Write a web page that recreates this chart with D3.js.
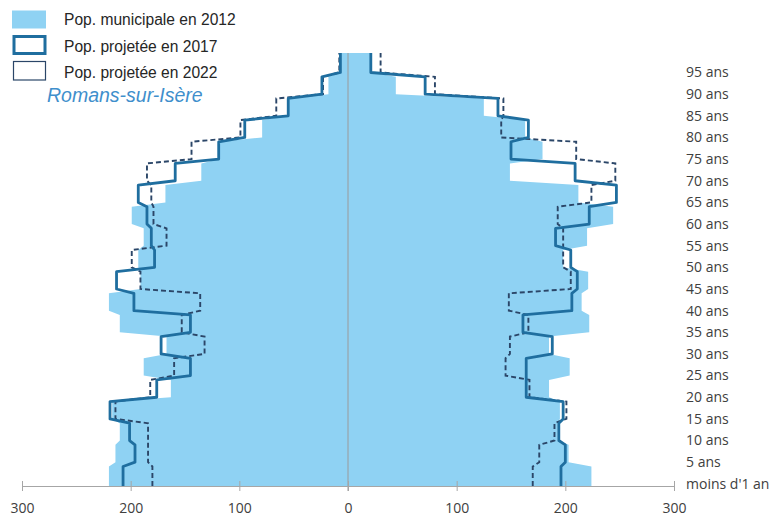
<!DOCTYPE html>
<head>
  <style>
    body { margin: 0; background: #fff; }
    .tick text { font-family: "Open Sans", sans-serif; font-size: 14px; fill: #404040; }
    .age-label { font-family: "Open Sans", sans-serif; font-size: 14px; fill: #404040; }
    .legend-label { font-family: "Liberation Sans", Arial, sans-serif; font-size: 15.6px; fill: #262626; }
    .title { font-family: "Liberation Sans", Arial, sans-serif; font-size: 19.5px; font-style: italic; fill: #3f8fcc; }
  </style>
  <title>Pyramide des âges - Romans-sur-Isère</title>
</head>
<body>
  <script src="https://cdn.jsdelivr.net/npm/d3@7"></script>
  <script>
    // 5-year age groups, bottom to top
    const ageLabels = ["moins d'1 an", "5 ans", "10 ans", "15 ans", "20 ans", "25 ans", "30 ans", "35 ans", "40 ans", "45 ans",
                       "50 ans", "55 ans", "60 ans", "65 ans", "70 ans", "75 ans", "80 ans", "85 ans", "90 ans", "95 ans"];
    const xTicks = [-300, -200, -100, 0, 100, 200, 300];

    // left side (hommes), per single year of age inside each group
    const men2012 = [220, 214, 210, 217, 163, 188, 167, 210, 220, 191, 193, 188, 199, 168, 135, 119, 79, 55, 18, 7];
    const men2017 = [207, 196, 201, 219, 176, 145, 172, 145, 197, 213, 178, 181, 185, 193, 159, 119, 95, 55, 24, 7];
    const men2022 = [180, 184, 184, 214, 182, 160, 132, 153, 136, 191, 199, 167, 179, 181, 185, 144, 99, 66, 23, 8];
    // right side (femmes)
    const women2012 = [224, 203, 193, 195, 185, 204, 185, 222, 215, 221, 198, 220, 244, 212, 149, 179, 163, 125, 44, 21];
    const women2017 = [196, 200, 194, 198, 164, 164, 188, 161, 206, 211, 205, 191, 222, 247, 209, 150, 166, 138, 71, 21];
    const women2022 = [170, 176, 190, 201, 167, 145, 149, 166, 148, 205, 198, 198, 193, 224, 246, 210, 141, 143, 80, 30];

    const legendLabels = ["Pop. municipale en 2012", "Pop. projetée en 2017", "Pop. projetée en 2022"];
    const townName = "Romans-sur-Isère";

    const fillColor = "#8fd2f3";
    const line2017 = "#1f6e9f";
    const line2022 = "#2b4668";

    const width = 775, height = 518;

    const x = d3.scaleLinear().domain([-300, 300]).range([22, 674]);
    const y = d3.scaleLinear().domain([0, 100]).range([486, 53]);

    const svg = d3.select("body").append("svg")
      .attr("width", width)
      .attr("height", height);

    // each group is flat over its 5 years, with a one-year ramp to the next group
    function groupPoints(values, sign) {
      const pts = [];
      values.forEach((v, k) => {
        const a0 = k === 0 ? 0 : 5 * k + 0.5;
        const a1 = k === values.length - 1 ? 5 * (k + 1) : 5 * k + 4.5;
        pts.push({ age: a0, v: sign * v });
        pts.push({ age: a1, v: sign * v });
      });
      return pts;
    }

    const area = d3.area()
      .y(d => y(d.age))
      .x0(x(0))
      .x1(d => x(d.v));

    const line = d3.line()
      .x(d => x(d.v))
      .y(d => y(d.age));

    // 2012 filled pyramid
    svg.append("path").datum(groupPoints(men2012, -1))
      .attr("d", area).attr("fill", fillColor);
    svg.append("path").datum(groupPoints(women2012, 1))
      .attr("d", area).attr("fill", fillColor);

    // centre line
    svg.append("line")
      .attr("x1", x(0)).attr("x2", x(0))
      .attr("y1", y(100)).attr("y2", y(0) + 5)
      .attr("stroke", "#9a9a9a").attr("stroke-width", 1);

    // projections
    [[men2022, -1], [women2022, 1]].forEach(([vals, s]) => {
      svg.append("path").datum(groupPoints(vals, s))
        .attr("d", line).attr("fill", "none")
        .attr("stroke", line2022).attr("stroke-width", 1.9)
        .attr("stroke-dasharray", "5,3");
    });
    [[men2017, -1], [women2017, 1]].forEach(([vals, s]) => {
      svg.append("path").datum(groupPoints(vals, s))
        .attr("d", line).attr("fill", "none")
        .attr("stroke", line2017).attr("stroke-width", 2.8)
        .attr("stroke-linejoin", "round");
    });

    // x axis
    const xAxis = svg.append("g")
      .attr("transform", `translate(0,${y(0)})`)
      .call(d3.axisBottom(x).tickValues(xTicks).tickFormat(d => Math.abs(d))
        .tickSize(5).tickSizeOuter(0).tickPadding(12));
    xAxis.select(".domain").attr("stroke", "#a6a6a6");
    xAxis.selectAll(".tick line").attr("y1", -5).attr("stroke", "#a6a6a6");
    xAxis.selectAll(".tick text").attr("font-family", null).attr("font-size", null);

    // age labels on the right
    svg.append("g").selectAll("text")
      .data(ageLabels)
      .enter().append("text")
      .attr("class", "age-label")
      .attr("x", 686)
      .attr("y", (d, i) => y(5 * i + 0.5))
      .attr("dy", "0.35em")
      .text(d => d);

    // legend
    const legend = svg.append("g");
    legend.append("rect").attr("x", 12).attr("y", 10.5).attr("width", 34).attr("height", 18)
      .attr("fill", fillColor);
    legend.append("rect").attr("x", 14).attr("y", 36.5).attr("width", 31).attr("height", 17)
      .attr("fill", "#fff").attr("stroke", line2017).attr("stroke-width", 3);
    legend.append("rect").attr("x", 13.5).attr("y", 61.5).attr("width", 32).attr("height", 18.5)
      .attr("fill", "#fff").attr("stroke", line2022).attr("stroke-width", 1.2);
    legend.selectAll("text.legend-label")
      .data(legendLabels)
      .enter().append("text")
      .attr("class", "legend-label")
      .attr("x", 64)
      .attr("y", (d, i) => [25, 52, 78][i])
      .text(d => d);

    svg.append("text")
      .attr("class", "title")
      .attr("x", 47)
      .attr("y", 102)
      .text(townName);
  </script>
</body>
